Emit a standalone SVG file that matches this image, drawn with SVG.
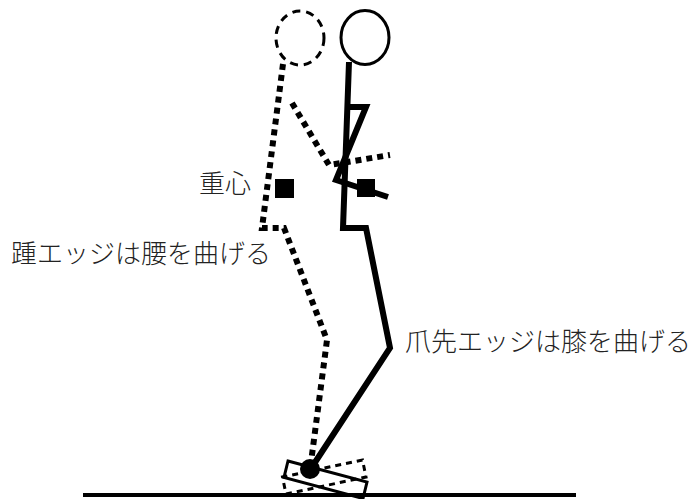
<svg xmlns="http://www.w3.org/2000/svg" width="694" height="499" viewBox="0 0 694 499">
  <style>
    .solid { fill: none; stroke: #000; stroke-width: 6; stroke-linejoin: miter; }
    .dotted { fill: none; stroke: #000; stroke-width: 6; stroke-dasharray: 6 5; }
    .head { fill: none; stroke: #000; stroke-width: 3; }
    .head-dash { fill: none; stroke: #000; stroke-width: 3; stroke-dasharray: 8 6; }
    .board { fill: none; stroke: #000; stroke-width: 3; }
    .board-dash { fill: none; stroke: #000; stroke-width: 3; stroke-dasharray: 6 5; }
    .label { font-family: "Noto Sans CJK JP", "Noto Sans", sans-serif; font-size: 26px; font-weight: 300; fill: #222; }
  </style>

  <!-- ground -->
  <g id="ground">
    <line x1="83" y1="495" x2="576" y2="495" stroke="#000" stroke-width="4"/>
  </g>

  <!-- heel-edge posture (dotted) -->
  <g id="heel-figure">
    <ellipse class="head-dash" cx="300" cy="38" rx="24" ry="27"/>
    <polyline class="dotted" points="283,64 262,228 284,228 327,340 310,470"/>
    <polyline class="dotted" points="292,103 329,165 390,155"/>
    <rect x="275" y="179" width="19" height="19" fill="#000"/>
    <polygon class="board-dash" points="286,494 366,477 362.5,460 282.5,477"/>
  </g>

  <!-- toe-edge posture (solid) -->
  <g id="toe-figure">
    <ellipse class="head" cx="365" cy="37.5" rx="24" ry="27"/>
    <polyline class="solid" points="349,62 343,228 366,228 390,348 310,470"/>
    <polyline class="solid" stroke-linejoin="round" points="349,107 366,107 336,180 388,197"/>
    <rect x="357" y="179" width="18" height="18" fill="#000"/>
    <polygon class="board" points="288,461 367,482 363,498.5 284,477.5"/>
    <circle cx="310" cy="469" r="10" fill="#000"/>
  </g>

  <!-- labels -->
  <g id="labels">
    <text class="label" x="199" y="193">重心</text>
    <text class="label" x="11" y="263">踵エッジは腰を曲げる</text>
    <text class="label" x="405" y="351">爪先エッジは膝を曲げる</text>
  </g>
</svg>
